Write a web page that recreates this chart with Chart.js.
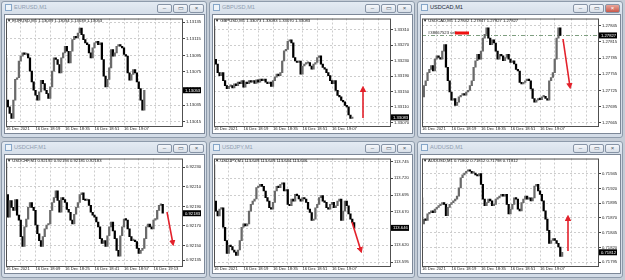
<!DOCTYPE html>
<html>
<head>
<meta charset="utf-8">
<script src="https://cdn.jsdelivr.net/npm/chart.js@4.4.1/dist/chart.umd.min.js"></script>
<style>
  body { margin: 0; width: 625px; height: 280px; background: #c4ccd6; position: relative; overflow: hidden; font-family: "Liberation Sans", Arial, sans-serif; }
  .win { position: absolute; width: 206px; height: 137px; box-sizing: border-box; background: linear-gradient(#e4ebf3, #d3dce7 14px, #d3dce7); border: 1px solid #8e9bab; border-radius: 3px; }
  .ttl { position: absolute; font-size: 5.6px; color: #8f9db0; white-space: nowrap; }
  .ttl.active { color: #1c2838; }
  .ico { position: absolute; width: 7px; height: 7px; box-sizing: border-box; border: 1px solid #86a6c8; background: #eef4fa; }
  .btn { position: absolute; width: 15px; height: 9px; box-sizing: border-box; border: 1px solid #8794a6; border-radius: 2px; background: linear-gradient(#f6f8fb, #d8dfe8); font-size: 6px; line-height: 7px; text-align: center; color: #4a5566; }
  .btn.red { background: linear-gradient(#e9a59a, #c9594b); color: #fff; }
  .client { position: absolute; width: 201px; height: 120px; box-sizing: border-box; border: 1px solid #7d8898; background: #fff; }
  canvas { position: absolute; }
  .hdr { position: absolute; font-size: 4.2px; color: #111; white-space: nowrap; }
  svg { position: absolute; left: 0; top: 0; }
</style>
</head>
<body>
<script>
const timesA = ['16 Dec 2021', '16 Dec 18:19', '16 Dec 18:35', '16 Dec 18:51', '16 Dec 19:07'];
const timesB = ['16 Dec 2021', '16 Dec 18:09', '16 Dec 18:25', '16 Dec 18:41', '16 Dec 18:57', '16 Dec 19:13'];

const eurusdQuote = [1.13039, 1.13054, 1.13039, 1.13053];
const eurusdOpen = 1.13092;
const eurusdCloses = [1.13041,1.13033,1.13025,1.13019,1.13041,1.13066,1.13068,1.13088,1.13094,1.13098,
  1.13096,1.13097,1.13092,1.13076,1.13063,1.13053,1.13047,1.13041,1.13051,1.13065,
  1.13061,1.13053,1.13049,1.13043,1.13057,1.13076,1.13092,1.13090,1.13084,1.13074,
  1.13092,1.13098,1.13106,1.13100,1.13086,1.13100,1.13114,1.13118,1.13116,1.13122,
  1.13128,1.13120,1.13114,1.13110,1.13108,1.13098,1.13092,1.13104,1.13110,1.13112,
  1.13108,1.13110,1.13090,1.13070,1.13057,1.13066,1.13080,1.13102,1.13094,1.13098,
  1.13106,1.13108,1.13106,1.13104,1.13096,1.13094,1.13074,1.13065,1.13072,1.13078,
  1.13074,1.13063,1.13055,1.13041,1.13029,1.13053];
const eurusdTicks = [1.13135, 1.13115, 1.13095, 1.13075, 1.13055, 1.13035, 1.13015];

const gbpusdQuote = [1.33073, 1.33083, 1.33070, 1.33083];
const gbpusdOpen = 1.33319;
const gbpusdCloses = [1.33233,1.33221,1.33199,1.33191,1.33199,1.33178,1.33165,1.33157,1.33163,1.33165,
  1.33159,1.33170,1.33165,1.33174,1.33170,1.33178,1.33161,1.33174,1.33170,1.33178,
  1.33174,1.33178,1.33171,1.33180,1.33174,1.33182,1.33178,1.33182,1.33174,1.33170,
  1.33174,1.33163,1.33178,1.33187,1.33195,1.33191,1.33199,1.33229,1.33255,1.33259,
  1.33280,1.33284,1.33276,1.33238,1.33229,1.33225,1.33229,1.33195,1.33216,1.33221,
  1.33223,1.33225,1.33216,1.33208,1.33221,1.33225,1.33238,1.33242,1.33221,1.33212,
  1.33208,1.33199,1.33191,1.33178,1.33170,1.33178,1.33153,1.33140,1.33136,1.33127,
  1.33123,1.33114,1.33110,1.33089,1.33080,1.33083];
const gbpusdTicks = [1.33310, 1.33270, 1.33230, 1.33190, 1.33150, 1.33110, 1.33070];

const usdcadQuote = [1.27842, 1.27847, 1.27827, 1.27827];
const usdcadOpen = 1.27670;
const usdcadCloses = [1.27713,1.27734,1.27743,1.27758,1.27764,1.27771,1.27761,1.27783,1.27789,1.27786,
  1.27783,1.27798,1.27810,1.27768,1.27743,1.27722,1.27707,1.27710,1.27697,1.27703,
  1.27713,1.27716,1.27719,1.27716,1.27722,1.27725,1.27734,1.27743,1.27768,1.27780,
  1.27792,1.27783,1.27798,1.27822,1.27829,1.27841,1.27822,1.27810,1.27819,1.27813,
  1.27798,1.27783,1.27792,1.27789,1.27780,1.27786,1.27792,1.27783,1.27777,1.27780,
  1.27774,1.27764,1.27761,1.27740,1.27737,1.27740,1.27743,1.27746,1.27743,1.27728,
  1.27710,1.27703,1.27707,1.27710,1.27708,1.27713,1.27714,1.27710,1.27707,1.27743,
  1.27749,1.27758,1.27783,1.27822,1.27841,1.27827];
const usdcadTicks = [1.27845, 1.27815, 1.27785, 1.27755, 1.27725, 1.27695, 1.27665];
const usdcadOrder = 1.27827;

const usdchfQuote = [0.92192, 0.92194, 0.92181, 0.92183];
const usdchfOpen = 0.92234;
const usdchfCloses = [0.92202,0.92179,0.92196,0.92189,0.92186,0.92197,0.92181,0.92176,0.92159,0.92149,
  0.92169,0.92177,0.92189,0.92194,0.92189,0.92186,0.92171,0.92162,0.92155,0.92149,
  0.92159,0.92167,0.92171,0.92172,0.92186,0.92194,0.92199,0.92206,0.92196,0.92184,
  0.92199,0.92197,0.92194,0.92187,0.92184,0.92176,0.92172,0.92182,0.92189,0.92194,
  0.92202,0.92204,0.92197,0.92196,0.92197,0.92191,0.92184,0.92181,0.92179,0.92174,
  0.92169,0.92157,0.92152,0.92155,0.92149,0.92160,0.92169,0.92174,0.92165,0.92157,
  0.92145,0.92139,0.92160,0.92169,0.92177,0.92176,0.92167,0.92159,0.92155,0.92155,
  0.92154,0.92147,0.92142,0.92145,0.92147,0.92157,0.92169,0.92172,0.92169,0.92167,
  0.92176,0.92177,0.92186,0.92191,0.92192,0.92183];
const usdchfTicks = [0.92230, 0.92210, 0.92190, 0.92170, 0.92150, 0.92135];

const usdjpyQuote = [113.649, 113.649, 113.644, 113.646];
const usdjpyOpen = 113.740;
const usdjpyCloses = [113.686,113.671,113.664,113.674,113.676,113.647,113.627,113.608,113.620,113.618,
  113.613,113.610,113.605,113.613,113.627,113.647,113.652,113.649,113.652,113.671,
  113.681,113.686,113.689,113.706,113.708,113.711,113.708,113.701,113.691,113.686,
  113.676,113.674,113.684,113.701,113.708,113.706,113.711,113.713,113.701,113.703,
  113.681,113.679,113.689,113.686,113.696,113.694,113.689,113.686,113.691,113.689,
  113.684,113.674,113.669,113.657,113.659,113.676,113.681,113.691,113.694,113.686,
  113.684,113.676,113.674,113.681,113.684,113.676,113.679,113.686,113.689,113.657,
  113.671,113.686,113.679,113.667,113.659,113.654,113.646];
const usdjpyTicks = [113.745, 113.720, 113.695, 113.670, 113.645, 113.620, 113.595];

const audusdQuote = [0.71802, 0.71812, 0.71798, 0.71812];
const audusdOpen = 0.71904;
const audusdCloses = [0.71860,0.71868,0.71866,0.71877,0.71879,0.71882,0.71879,0.71885,0.71888,0.71891,
  0.71893,0.71896,0.71893,0.71874,0.71888,0.71893,0.71896,0.71899,0.71902,0.71907,
  0.71921,0.71938,0.71943,0.71946,0.71949,0.71950,0.71949,0.71946,0.71946,0.71943,
  0.71941,0.71945,0.71927,0.71902,0.71891,0.71896,0.71902,0.71899,0.71891,0.71893,
  0.71902,0.71904,0.71907,0.71910,0.71907,0.71910,0.71893,0.71877,0.71885,0.71893,
  0.71904,0.71902,0.71885,0.71882,0.71896,0.71902,0.71907,0.71902,0.71904,0.71899,
  0.71904,0.71924,0.71927,0.71916,0.71910,0.71899,0.71882,0.71868,0.71849,0.71827,
  0.71832,0.71835,0.71832,0.71827,0.71821,0.71805,0.71812];
const audusdTicks = [0.71945, 0.71920, 0.71895, 0.71870, 0.71845, 0.71820, 0.71795];

const panels = [
  { sym: 'EURUSD', quote: eurusdQuote, open: eurusdOpen, closes: eurusdCloses, ticks: eurusdTicks, min: 1.130099, max: 1.131394, digits: 5, times: timesA },
  { sym: 'GBPUSD', quote: gbpusdQuote, open: gbpusdOpen, closes: gbpusdCloses, ticks: gbpusdTicks, min: 1.330606, max: 1.333389, digits: 5, times: timesA },
  { sym: 'USDCAD', quote: usdcadQuote, open: usdcadOpen, closes: usdcadCloses, ticks: usdcadTicks, min: 1.276590, max: 1.278584, digits: 5, times: timesA, order: usdcadOrder, active: true },
  { sym: 'USDCHF', quote: usdchfQuote, open: usdchfOpen, closes: usdchfCloses, ticks: usdchfTicks, min: 0.92129, max: 0.92239, digits: 5, times: timesB },
  { sym: 'USDJPY', quote: usdjpyQuote, open: usdjpyOpen, closes: usdjpyCloses, ticks: usdjpyTicks, min: 113.5892, max: 113.7494, digits: 3, times: timesA },
  { sym: 'AUDUSD', quote: audusdQuote, open: audusdOpen, closes: audusdCloses, ticks: audusdTicks, min: 0.717888, max: 0.719706, digits: 5, times: timesA }
];

const slots = Array.from({ length: 97 }, (_, i) => i);
const tinyFont = { family: 'Liberation Sans', size: 4.2 };

function el(cls, x, y, text) {
  const d = document.createElement('div');
  d.className = cls;
  d.style.left = x + 'px';
  d.style.top = y + 'px';
  if (text) d.textContent = text;
  document.body.appendChild(d);
  return d;
}

// frame around the plot, price tag and the order line
const mtPlugin = {
  id: 'mt',
  beforeDatasetsDraw(chart) {
    const p = chart.options.plugins.mt;
    if (p.order == null) return;
    const { ctx, chartArea: a } = chart;
    const y = Math.round(chart.scales.y.getPixelForValue(p.order)) + 0.5;
    ctx.save();
    ctx.strokeStyle = '#7e9e80';
    ctx.lineWidth = 1;
    ctx.setLineDash([4, 2, 1, 2]);
    ctx.beginPath(); ctx.moveTo(a.left, y); ctx.lineTo(a.right, y); ctx.stroke();
    ctx.setLineDash([]);
    ctx.font = '4.2px "Liberation Sans"';
    ctx.fillStyle = '#222';
    ctx.textBaseline = 'bottom';
    ctx.fillText('#38667523 sell', a.left + 6, y - 1);
    ctx.fillStyle = '#ee1111';
    ctx.fillRect(a.left + 33, y - 4, 14, 3);
    ctx.restore();
  },
  afterDraw(chart) {
    const p = chart.options.plugins.mt;
    const { ctx, chartArea: a } = chart;
    ctx.save();
    ctx.strokeStyle = '#505050';
    ctx.lineWidth = 1;
    ctx.strokeRect(a.left + 0.5, a.top + 0.5, a.right - a.left - 1, a.bottom - a.top);
    const y = chart.scales.y.getPixelForValue(p.tag);
    ctx.fillStyle = '#000';
    ctx.fillRect(a.right, y - 3, 18, 6);
    ctx.fillStyle = '#fff';
    ctx.font = '4.2px "Liberation Sans"';
    ctx.textBaseline = 'middle';
    ctx.fillText(p.tag.toFixed(p.digits), a.right + 2, y + 0.3);
    ctx.restore();
  }
};

panels.forEach((p, i) => {
  const ox = [0, 208, 416][i % 3];
  const oy = i < 3 ? 0 : 140;
  el('win', ox + 1, oy + 1);
  el('ico', ox + 5, oy + 4);
  el('ttl' + (p.active ? ' active' : ''), ox + 14, oy + 3.5, p.sym + ',M1');
  el('btn', ox + 157, oy + 4, '‒');
  el('btn', ox + 173, oy + 4, '▭');
  el('btn' + (p.active ? ' red' : ''), ox + 189, oy + 4, '×');
  el('client', ox + 4, oy + 14);
  const cv = document.createElement('canvas');
  cv.width = 199; cv.height = 118;
  cv.style.left = (ox + 5) + 'px';
  cv.style.top = (oy + 15) + 'px';
  document.body.appendChild(cv);
  el('hdr', ox + 7, oy + 18, '▼ ' + p.sym + ',M1  ' + p.quote.map(v => v.toFixed(p.digits)).join(' '));

  const bodies = p.closes.map((c, k) => [k === 0 ? p.open : p.closes[k - 1], c]);
  const colors = bodies.map(b => (b[1] < b[0] ? '#000000' : '#6a6a6a'));

  new Chart(cv, {
    type: 'bar',
    data: {
      labels: slots,
      datasets: [{ data: bodies, backgroundColor: colors, barThickness: 1.6, minBarLength: 1.5, grouped: false }]
    },
    options: {
      animation: false,
      responsive: false,
      events: [],
      layout: { padding: { left: 1, top: 2, right: 0, bottom: 0 } },
      plugins: {
        legend: { display: false },
        tooltip: { enabled: false },
        mt: { tag: p.closes[p.closes.length - 1], digits: p.digits, order: p.order }
      },
      scales: {
        x: {
          offset: false,
          grid: { offset: false, drawTicks: false, color: c => (c.index % 8 === 0 ? '#cdcdcd' : 'rgba(0,0,0,0)') },
          border: { display: false, dash: [2, 2] },
          ticks: {
            autoSkip: false, maxRotation: 0, align: 'start', padding: 0,
            font: tinyFont, color: '#222',
            callback: (v, k) => (k % 16 === 0 ? p.times[k / 16] : '')
          },
          afterFit: s => { s.height = 7; }
        },
        y: {
          position: 'right',
          min: p.min,
          max: p.max,
          afterBuildTicks: s => { s.ticks = p.ticks.map(v => ({ value: v })); },
          grid: { color: '#cdcdcd', tickColor: '#444', tickLength: 2 },
          border: { display: false, dash: [2, 2] },
          ticks: { font: tinyFont, color: '#222', padding: 1, callback: v => v.toFixed(p.digits) },
          afterFit: s => { s.width = 21; }
        }
      }
    },
    plugins: [mtPlugin]
  });
});
</script>
<svg width="625" height="280">
  <defs>
    <marker id="ah" markerWidth="4" markerHeight="4" refX="2.5" refY="2" orient="auto" markerUnits="strokeWidth">
      <path d="M0,0 L4,2 L0,4 z" fill="#e3212b"/>
    </marker>
  </defs>
  <g stroke="#e3212b" stroke-width="1.6" marker-end="url(#ah)">
    <line x1="363" y1="118" x2="363" y2="88"/>
    <line x1="563" y1="39" x2="570" y2="87"/>
    <line x1="167" y1="212" x2="173" y2="244"/>
    <line x1="352" y1="222" x2="361" y2="251"/>
    <line x1="568" y1="251" x2="568" y2="217"/>
  </g>
</svg>
</body>
</html>
